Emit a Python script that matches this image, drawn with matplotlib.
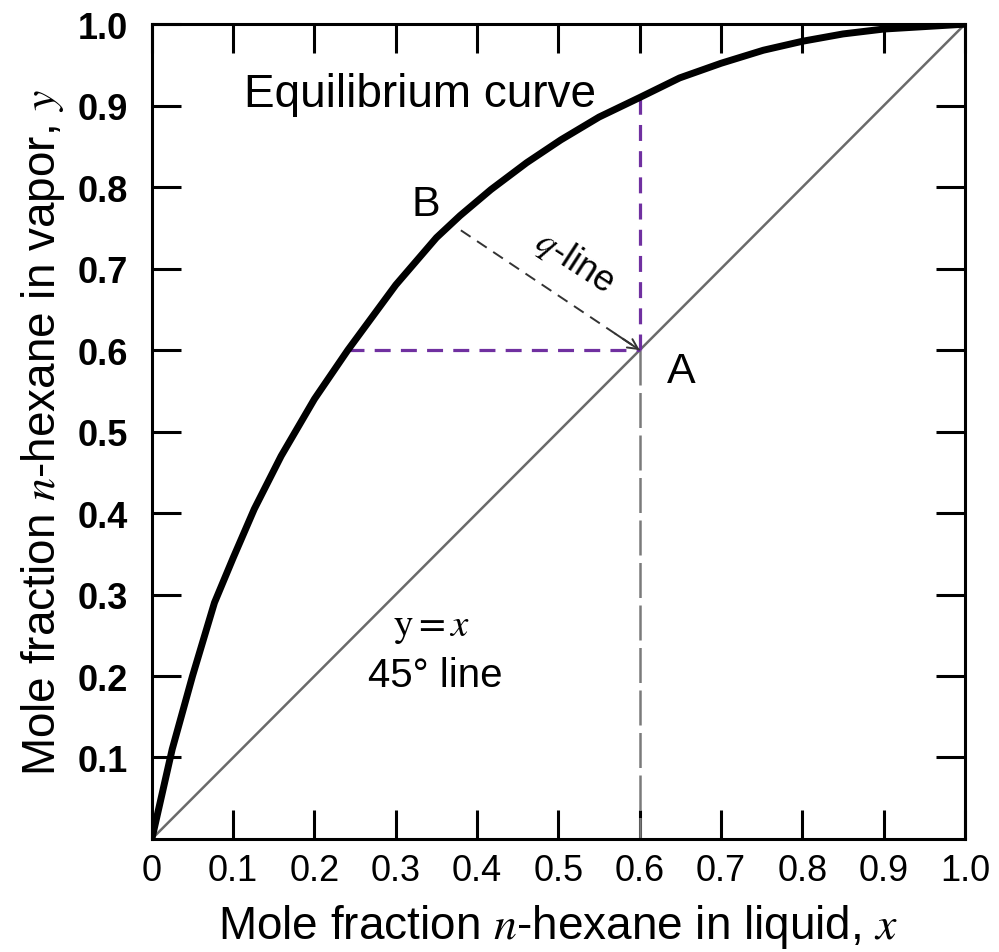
import numpy as np
import matplotlib
matplotlib.use("Agg")
import matplotlib.pyplot as plt

eqX = [0.0, 0.025, 0.05, 0.077, 0.1, 0.126, 0.159, 0.2, 0.241, 0.3, 0.35,
       0.379, 0.417, 0.461, 0.503, 0.55, 0.6, 0.649, 0.7, 0.752, 0.8, 0.85,
       0.9, 1.0]
eqY = [0.0, 0.11, 0.2, 0.29, 0.345, 0.405, 0.47, 0.54, 0.6, 0.68, 0.738,
       0.765, 0.797, 0.83, 0.858, 0.886, 0.91, 0.934, 0.952, 0.968, 0.979, 0.988,
       0.994, 1.0]

#Puntos A y B, linea q
puntoA = (0.6, 0.6)
puntoB = (0.38, 0.747)
yCurvaA = 0.91     #curva sobre A
xCurvaA = 0.241    #curva a la altura de A

ticksX = [0, 0.1, 0.2, 0.3, 0.4, 0.5, 0.6, 0.7, 0.8, 0.9, 1.0]
etiquetasX = ["0", "0.1", "0.2", "0.3", "0.4", "0.5", "0.6", "0.7", "0.8", "0.9", "1.0"]
ticksY = [0.1, 0.2, 0.3, 0.4, 0.5, 0.6, 0.7, 0.8, 0.9, 1.0]
etiquetasY = ["0.1", "0.2", "0.3", "0.4", "0.5", "0.6", "0.7", "0.8", "0.9", "1.0"]

plt.rcParams["font.family"] = ["Liberation Sans", "DejaVu Sans"]
plt.rcParams["mathtext.fontset"] = "stix"

fig = plt.figure(figsize=(9.99, 9.53), dpi=100)
ax = fig.add_axes([0.152, 0.1186, 0.814, 0.855])

#Linea de 45 grados
ax.plot([0, 1], [0, 1], color="#6a6a6a", lw=1.8, zorder=2)

#Curva de equilibrio
ax.plot(eqX, eqY, color="black", lw=5, solid_capstyle="round",
        solid_joinstyle="round", zorder=4)

#Lineas moradas
morado = "#7030a0"
ax.plot([xCurvaA, puntoA[0]], [puntoA[1], puntoA[1]], color=morado, lw=2.3,
        dashes=(5, 3.2), zorder=3)
ax.plot([puntoA[0], puntoA[0]], [puntoA[1], yCurvaA], color=morado, lw=2.3,
        dashes=(5, 3.2), zorder=3)

#Linea vertical gris hasta el eje x
ax.plot([puntoA[0], puntoA[0]], [puntoA[1], 0], color="#7a7a7a", lw=1.8,
        dashes=(14, 3), zorder=2)

#Linea q
ax.plot([puntoB[0], puntoA[0]], [puntoB[1], puntoA[1]], color="#333333", lw=1.4,
        dashes=(6, 4), zorder=3)
ax.annotate("", xy=puntoA,
            xytext=(puntoA[0] - 0.03, puntoA[1] + 0.02),
            arrowprops=dict(arrowstyle="->", color="#333333", lw=1.4,
                            mutation_scale=18, shrinkA=0, shrinkB=0))

#Textos
ax.text(0.33, 0.914, "Equilibrium curve", fontsize=33, ha="center", va="center")
ax.text(0.337, 0.779, "B", fontsize=31, ha="center", va="center")
ax.text(0.651, 0.574, "A", fontsize=31, ha="center", va="center")
ax.text(0.52, 0.71, r"$q$-line", fontsize=26, ha="center", va="center",
        rotation=-33, rotation_mode="anchor")
ax.text(0.344, 0.26, r"$\mathrm{y} = x$", fontsize=28, ha="center", va="center")
ax.text(0.348, 0.201, "45° line", fontsize=29, ha="center", va="center")

ax.set_xlim(0, 1)
ax.set_ylim(0, 1)
ax.set_xticks(ticksX)
ax.set_xticklabels(etiquetasX, fontsize=26)
ax.set_yticks(ticksY)
ax.set_yticklabels(etiquetasY, fontsize=26, fontweight="bold")
ax.tick_params(direction="in", length=21, width=2.2, top=True, right=True)
ax.tick_params(axis="x", pad=10)
ax.tick_params(axis="y", pad=17)
for lado in ax.spines.values():
    lado.set_linewidth(2.2)

ax.set_xlabel(r"Mole fraction $n$-hexane in liquid, $x$", fontsize=33, labelpad=10)
ax.set_ylabel(r"Mole fraction $n$-hexane in vapor, $y$", fontsize=33, labelpad=8)

fig.savefig("out.png", dpi=100)
